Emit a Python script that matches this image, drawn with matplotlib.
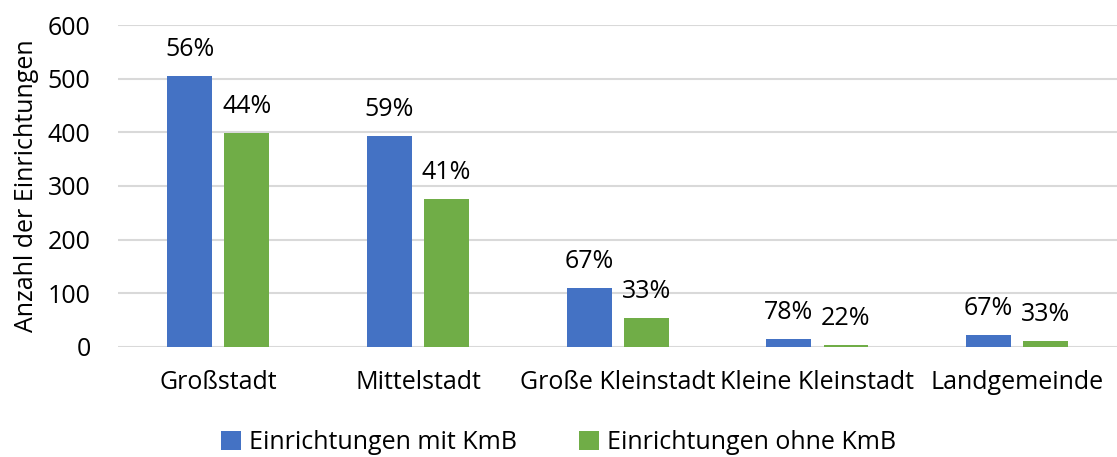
import matplotlib.pyplot as plt
import numpy as np

plt.rcParams['font.family'] = ['Open Sans', 'DejaVu Sans']

categories = ["Großstadt", "Mittelstadt", "Große Kleinstadt", "Kleine Kleinstadt", "Landgemeinde"]
mit_kmb = [505, 393, 110, 14, 22]
ohne_kmb = [399, 276, 54, 4, 11]
pct_mit = ["56%", "59%", "67%", "78%", "67%"]
pct_ohne = ["44%", "41%", "33%", "22%", "33%"]

blue = "#4472C4"
green = "#70AD47"
fs = 18

fig = plt.figure(figsize=(11.17, 4.57), dpi=100)
ax = fig.add_axes([0.106, 0.241, 0.894, 0.704])

x = np.arange(len(categories))
w = 0.225
off = 0.143
b1 = ax.bar(x - off, mit_kmb, w, color=blue, label="Einrichtungen mit KmB", zorder=3)
b2 = ax.bar(x + off, ohne_kmb, w, color=green, label="Einrichtungen ohne KmB", zorder=3)

for bars, labels in ((b1, pct_mit), (b2, pct_ohne)):
    for rect, t in zip(bars, labels):
        ax.annotate(t, (rect.get_x() + rect.get_width() / 2, rect.get_height()),
                    xytext=(0, 10), textcoords="offset points", ha="center", va="bottom",
                    fontsize=fs)

ax.set_ylim(0, 600)
ax.set_xlim(-0.5, 4.5)
ax.set_yticks(range(0, 601, 100))
ax.set_xticks(x)
ax.set_xticklabels(categories)
ax.tick_params(axis="both", length=0, labelsize=fs)
ax.tick_params(axis="x", pad=17)
ax.tick_params(axis="y", pad=20)
ax.grid(axis="y", color="#D9D9D9", linewidth=1.5, zorder=0)
for s in ax.spines.values():
    s.set_visible(False)
ax.set_ylabel("Anzahl der Einrichtungen", fontsize=fs, labelpad=6)

fig.legend(handles=[b1, b2], loc="center", bbox_to_anchor=(0.5, 0.032), ncol=2,
           frameon=False, fontsize=fs, handlelength=0.8, handleheight=0.8,
           handletextpad=0.3, columnspacing=2.5)

fig.savefig("out.png", dpi=100)
